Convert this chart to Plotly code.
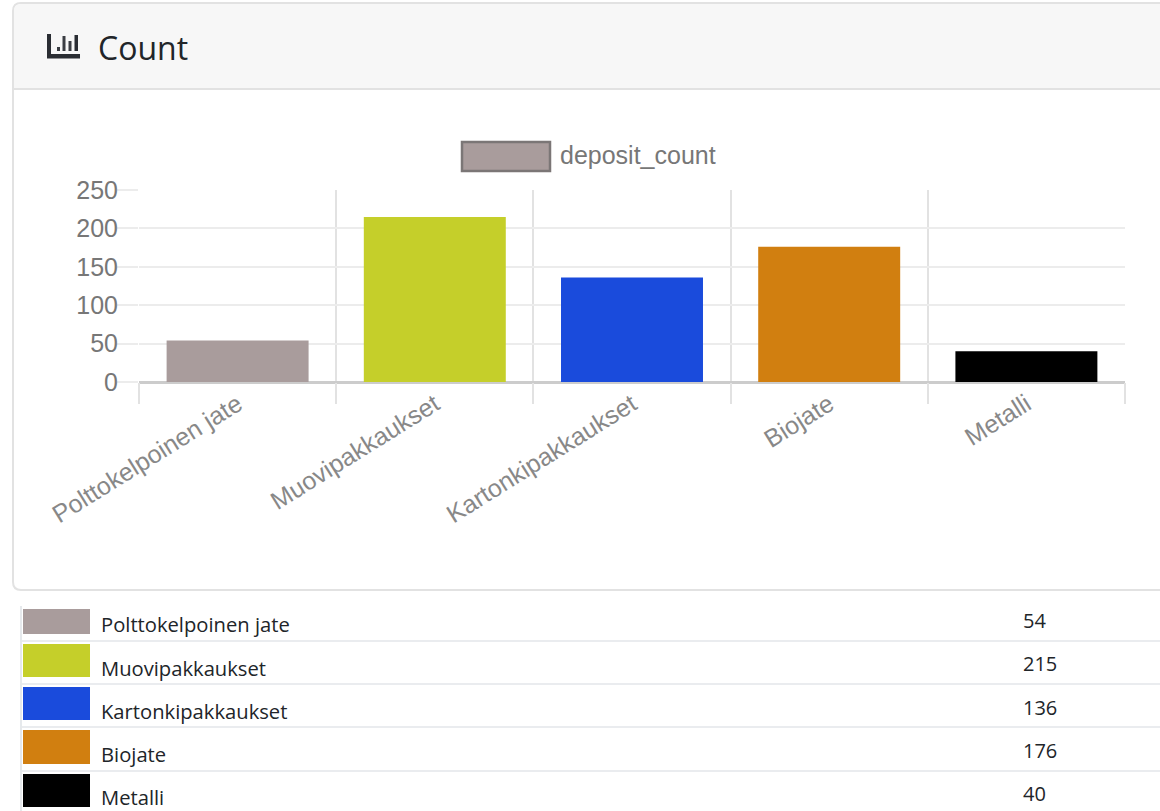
import plotly.graph_objects as go

categories = ["Polttokelpoinen jate", "Muovipakkaukset", "Kartonkipakkaukset", "Biojate", "Metalli"]
deposit_count = [54, 215, 136, 176, 40]
bar_colors = ["#a99c9c", "#c5cf2a", "#1a4bdc", "#d17f10", "#000000"]
y_ticks = [0, 50, 100, 150, 200, 250]
series_name = "deposit_count"
panel_title = "Count"

W, H = 1160, 811
CHART = "Liberation Sans, Arial, sans-serif"
PAGE = "Open Sans, Noto Sans, sans-serif"


def px(x):
    return x / W


def py(y):
    return 1 - y / H


def rect(x0, y0, x1, y1, fill, line=None, width=0):
    return dict(type="rect", xref="paper", yref="paper", x0=px(x0), x1=px(x1), y0=py(y0), y1=py(y1),
                fillcolor=fill, line=dict(color=line or fill, width=width), layer="below")


def hline(x0, x1, y, color, width=1.5):
    return dict(type="line", xref="paper", yref="paper", x0=px(x0), x1=px(x1), y0=py(y), y1=py(y),
                line=dict(color=color, width=width), layer="below")


def path(points, fill, line="rgba(0,0,0,0)", width=0, layer="below"):
    d = "M " + " L ".join(f"{px(a):.5f},{py(b):.5f}" for a, b in points) + " Z"
    return dict(type="path", xref="paper", yref="paper", path=d, fillcolor=fill,
                line=dict(color=line, width=width), layer=layer)


def label(x, y, text, size, color, family=PAGE, anchor="left"):
    return dict(xref="paper", yref="paper", x=px(x), y=py(y), text=text, showarrow=False, xanchor=anchor,
                yanchor="middle", font=dict(size=size, color=color, family=family))


fig = go.Figure(go.Bar(x=categories, y=deposit_count, marker=dict(color=bar_colors, line=dict(width=0)),
                       width=0.72, name=series_name, showlegend=False))

shapes = [
    # card
    dict(type="path", xref="paper", yref="paper",
         path=f"M {px(1170)},{py(3)} L {px(21)},{py(3)} Q {px(13)},{py(3)} {px(13)},{py(11)} "
              f"L {px(13)},{py(582)} Q {px(13)},{py(590)} {px(21)},{py(590)} L {px(1170)},{py(590)} Z",
         fillcolor="#ffffff", line=dict(color="#e2e2e2", width=2), layer="below"),
    dict(type="path", xref="paper", yref="paper",
         path=f"M {px(1170)},{py(4)} L {px(21)},{py(4)} Q {px(14)},{py(4)} {px(14)},{py(11)} "
              f"L {px(14)},{py(88)} L {px(1170)},{py(88)} Z",
         fillcolor="#f7f7f7", line=dict(width=0), layer="below"),
    hline(14, 1160, 89, "#e2e2e2", 2),
    # header icon
    path([(47, 34), (51, 34), (51, 54), (80, 54), (80, 58.5), (47, 58.5)], "#2a2d33"),
    rect(57, 47, 60, 51, "#3a3d43"),
    rect(62.5, 36, 65.5, 51, "#3a3d43"),
    rect(68.5, 41, 71.5, 51, "#3a3d43"),
    rect(74.5, 35, 78, 51, "#2a2d33"),
    # chart legend swatch
    rect(462, 142, 550, 171, bar_colors[0], "#7b7676", 2.5),
    # table frame
    dict(type="line", xref="paper", yref="paper", x0=px(21), x1=px(21), y0=py(606), y1=py(811),
         line=dict(color="#dee2e6", width=1.5), layer="below"),
]

annotations = [
    label(96, 47, panel_title, 32, "#212529"),
    label(558, 155, series_name, 25, "#777777", CHART),
]

# table rows
row_tops = [609, 644, 687, 730, 774]
row_bottoms = [634, 677, 720, 764, 807]
label_ys = [624, 668, 711, 754, 797]
value_ys = [620, 663, 707, 750, 793]
separators = [641, 684, 727, 771]
for y in separators:
    shapes.append(hline(22, 1160, y, "#e3e6ea", 1.5))
for name, value, color, top, bottom, ly, vy in zip(categories, deposit_count, bar_colors,
                                                   row_tops, row_bottoms, label_ys, value_ys):
    shapes.append(rect(23, top, 90, bottom, color))
    annotations.append(label(99, ly, name, 20.2, "#212529"))
    annotations.append(label(1021, vy, str(value), 20, "#212529"))

fig.update_layout(
    width=W, height=H, margin=dict(l=0, r=0, t=0, b=0),
    paper_bgcolor="#ffffff", plot_bgcolor="rgba(0,0,0,0)",
    shapes=shapes, annotations=annotations, showlegend=False,
    xaxis=dict(domain=[px(139), px(1125)], type="category", tickson="boundaries", ticks="outside", ticklen=21,
               tickcolor="#e2e2e2", tickwidth=1.5, gridcolor="#e2e2e2", gridwidth=1.5, showgrid=True,
               showline=False, tickangle=-32, ticklabelstandoff=2, automargin=False,
               tickfont=dict(family=CHART, size=25, color="#888888")),
    yaxis=dict(domain=[py(382), py(190)], range=[0, 250], tickmode="array", tickvals=y_ticks,
               ticks="outside", ticklen=21, tickcolor="#ececec", tickwidth=1.5,
               gridcolor="#ececec", gridwidth=1.5, zeroline=True, zerolinecolor="#cccccc", zerolinewidth=2.5,
               showline=False, automargin=False, ticklabelstandoff=-6,
               tickfont=dict(family=CHART, size=25, color="#777777")),
)

fig.write_html("out.html", config=dict(displayModeBar=False),
               post_script="document.body.style.margin='0';document.body.style.overflow='hidden';")
